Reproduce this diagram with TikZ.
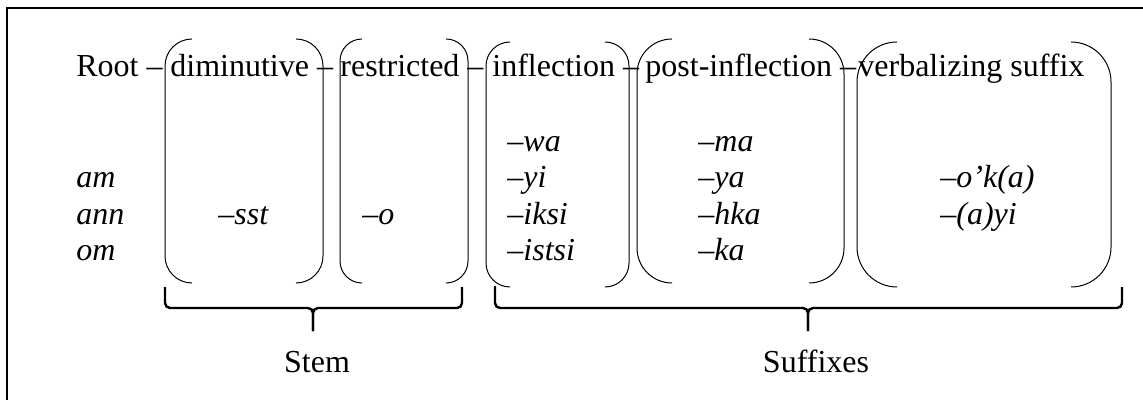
\documentclass[tikz,border=0pt]{standalone}
\usepackage{fontspec}
\setmainfont{Liberation Serif}

% one unit = half a point, y runs downwards
\tikzset{
    slot/.style={line width=0.5pt, rounded corners=#1},
    brace/.style={line width=1.2pt, rounded corners=2.5pt},
    word/.style={anchor=base west, inner sep=0pt, font=\fontsize{16}{19}\selectfont},
    morph/.style={word, font=\fontsize{16}{19}\selectfont\itshape},
    group/.style={anchor=base, inner sep=0pt, font=\fontsize{16}{19}\selectfont}
}

% left, right, top, bottom, corner radius
\newcommand{\morphslot}[5]{%
    \draw[slot=#5*0.5pt] ({#1+#5},#3) -- (#1,#3) -- (#1,#4) -- ({#1+#5},#4);
    \draw[slot=#5*0.5pt] ({#2-#5},#3) -- (#2,#3) -- (#2,#4) -- ({#2-#5},#4);
}

\begin{document}
\begin{tikzpicture}[x=0.5pt, y=-0.5pt]

    \useasboundingbox (0,0) rectangle (1143,400);
    \clip (0,0) rectangle (1143,400);
    \draw[line width=0.6pt] (7,8) rectangle (1160,420);

    % Header row
    \node[word] (root) at (76,77) {Root --};
    \node[word] (dim)  at (170,77) {diminutive --};
    \node[word] (res)  at (340,77) {restricted --};
    \node[word] (infl) at (492,77) {inflection --};
    \node[word] (post) at (645,77) {post-inflection --};
    \node[word] (verb) at (858,77) {verbalizing suffix};

    % Slots
    \morphslot{165}{323}{39}{283}{27}
    \morphslot{340}{468}{39}{283}{22}
    \morphslot{486}{629}{42}{287}{24}
    \morphslot{637}{844}{39}{283}{35}
    \morphslot{857}{1111}{42}{287}{40}

    % Roots
    \node[morph] (am)  at (76,188) {am};
    \node[morph] (ann) at (76,225) {ann};
    \node[morph] (om)  at (76,261) {om};

    % Stem morphemes
    \node[morph] (sst) at (218,225) {--sst};
    \node[morph] (o)   at (362,225) {--o};

    % Inflection
    \node[morph] (wa)    at (507,152) {--wa};
    \node[morph] (yi)    at (507,188) {--yi};
    \node[morph] (iksi)  at (507,225) {--iksi};
    \node[morph] (istsi) at (507,261) {--istsi};

    % Post-inflection
    \node[morph] (ma)  at (698,152) {--ma};
    \node[morph] (ya)  at (698,188) {--ya};
    \node[morph] (hka) at (698,225) {--hka};
    \node[morph] (ka)  at (698,261) {--ka};

    % Verbalizing suffix
    \node[morph] (ok)   at (940,188) {--o'k(a)};
    \node[morph] (ayi)  at (940,225) {--(a)yi};

    % Braces
    \coordinate (stemtip) at (313,331);
    \coordinate (sufftip) at (808,331);
    \draw[brace] (165,287) -- (165,308) -- (313,308) -- (stemtip);
    \draw[brace] (462,287) -- (462,308) -- (313,308) -- (stemtip);
    \draw[brace] (495,286) -- (495,308) -- (808,308) -- (sufftip);
    \draw[brace] (1122,287) -- (1122,308) -- (808,308) -- (sufftip);

    \node[group] (stem) at (317,372) {Stem};
    \node[group] (suff) at (816,372) {Suffixes};

\end{tikzpicture}
\end{document}
